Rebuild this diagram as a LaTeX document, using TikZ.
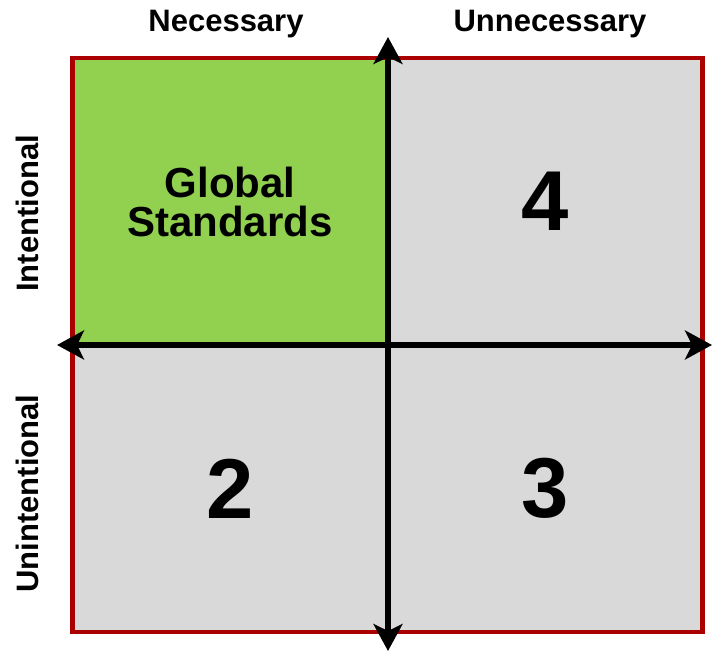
\documentclass[tikz,border=0pt]{standalone}
\usepackage{fontspec}
\setmainfont{Liberation Sans}
\usetikzlibrary{arrows.meta,positioning}
\definecolor{boxred}{RGB}{170,0,0}
\definecolor{boxgreen}{RGB}{146,208,80}
\definecolor{boxgray}{RGB}{217,217,217}
\begin{document}
\begin{tikzpicture}[x=1pt,y=-1pt,
  quad/.style={draw=boxred,line width=4.5pt,fill=boxgray,minimum width=315pt,minimum height=287pt,inner sep=0pt,
    font=\bfseries\fontsize{85}{85}\selectfont},
  axis/.style={line width=5.5pt,{Stealth[length=27pt,width=29pt,inset=7pt]}-{Stealth[length=27pt,width=29pt,inset=7pt]}},
  head/.style={font=\bfseries\fontsize{31}{31}\selectfont,inner sep=0pt}]
\useasboundingbox (0,0) rectangle (712,653);
% quadrants
\node[quad,fill=boxgreen,align=center,font=\bfseries\fontsize{42}{39}\selectfont] (nec-int) at (230,201.5) {Global\\Standards};
\node[quad] (unn-int) at (545,201.5) {4};
\node[quad] (nec-uni) at (230,488.5) {2};
\node[quad] (unn-uni) at (545,488.5) {3};
% axes
\coordinate (west) at (57,345);
\coordinate (east) at (712,345);
\coordinate (north) at (388,37);
\coordinate (south) at (388,651);
\draw[axis] (west)--(east);
\draw[axis] (north)--(south);
% headings
\node[head,anchor=base] (lbl-nec) at (226,31) {Necessary};
\node[head,anchor=base] (lbl-unn) at (550,31) {Unnecessary};
\node[head,anchor=base,rotate=90] (lbl-int) at (38,213.5) {Intentional};
\node[head,anchor=base,rotate=90] (lbl-uni) at (38,493.5) {Unintentional};
\end{tikzpicture}
\end{document}
